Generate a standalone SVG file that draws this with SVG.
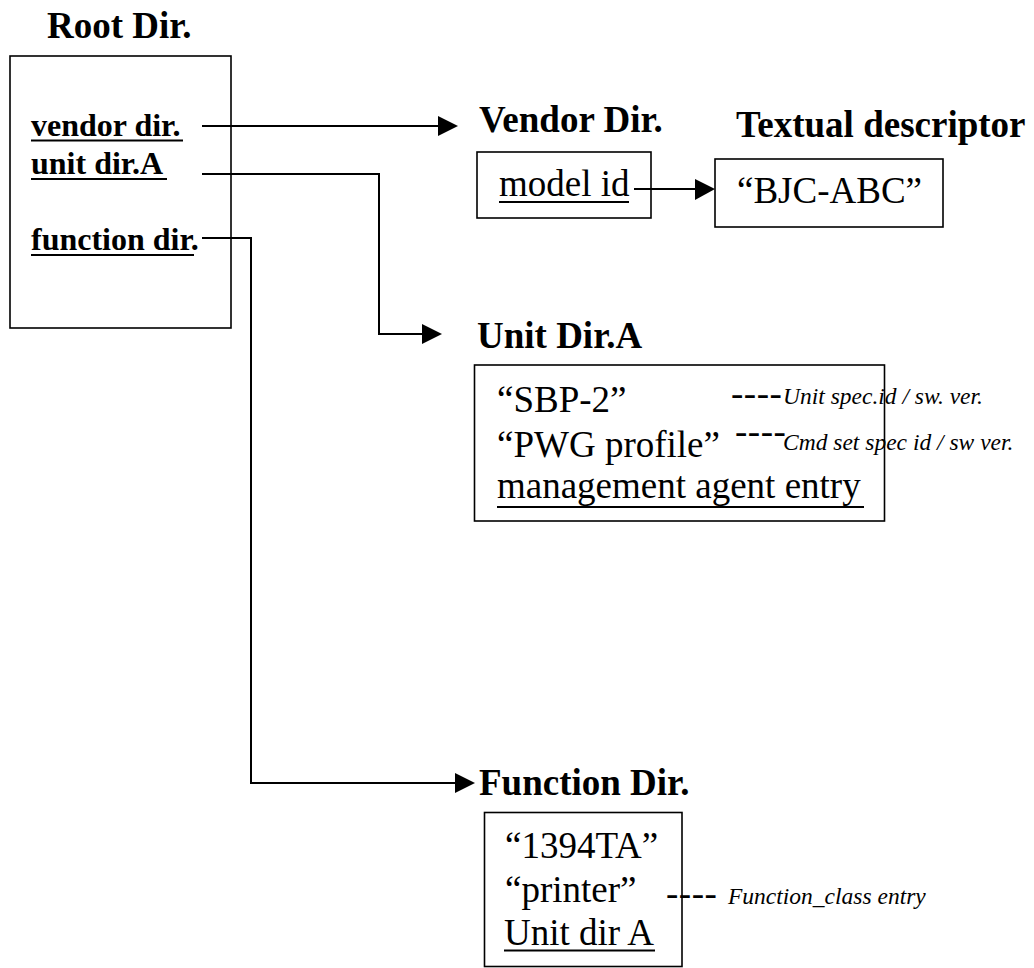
<svg xmlns="http://www.w3.org/2000/svg" width="1034" height="968" viewBox="0 0 1034 968">
<style>
text{font-family:"Liberation Serif","Times New Roman",serif;fill:#000}
.h{font-weight:bold;font-size:37px}
.e{font-weight:bold;font-size:32px}
.r{font-size:37px}
.i{font-style:italic;font-size:23.5px}
.d{font-size:37px;letter-spacing:0.5px}
.box{fill:none;stroke:#000;stroke-width:1.6}
.ul{stroke:#000;stroke-width:2}
.c{fill:none;stroke:#000;stroke-width:2}
.ah{fill:#000}
</style>
<g id="root">
<text class="h" x="47" y="38">Root Dir.</text>
<rect class="box" x="10" y="56" width="221" height="272"/>
<text class="e" x="31" y="136">vendor dir.</text>
<line class="ul" x1="31" y1="140.5" x2="183" y2="140.5"/>
<text class="e" x="31" y="174">unit dir.A</text>
<line class="ul" x1="31" y1="179" x2="167" y2="179"/>
<text class="e" x="31" y="250">function dir.</text>
<line class="ul" x1="31" y1="255" x2="194" y2="255"/>
</g>
<g id="vendor">
<text class="h" x="479" y="132">Vendor Dir.</text>
<rect class="box" x="477" y="152" width="174" height="66"/>
<text class="r" x="499" y="196">model id</text>
<line class="ul" x1="499" y1="202" x2="629" y2="202"/>
</g>
<g id="textual">
<text class="h" x="736" y="137">Textual descriptor</text>
<rect class="box" x="715" y="159" width="228" height="68"/>
<text class="r" x="737" y="203">“BJC-ABC”</text>
</g>
<g id="unit">
<text class="h" x="477" y="348">Unit Dir.A</text>
<rect class="box" x="474.5" y="365" width="410" height="156"/>
<text class="r" x="497" y="412">“SBP-2”</text>
<text class="r" x="497" y="457">“PWG profile”</text>
<text class="r" x="497" y="498">management agent entry</text>
<line class="ul" x1="497" y1="507" x2="864" y2="507"/>
<text class="d" x="731" y="406">----</text>
<text class="i" x="783" y="404">Unit spec.id / sw. ver.</text>
<text class="d" x="735" y="444">----</text>
<text class="i" x="783" y="450">Cmd set spec id / sw ver.</text>
</g>
<g id="function">
<text class="h" x="479" y="795">Function Dir.</text>
<rect class="box" x="484.5" y="812.5" width="197.5" height="154"/>
<text class="r" x="505" y="858">“1394TA”</text>
<text class="r" x="505" y="902">“printer”</text>
<text class="r" x="504" y="945">Unit dir A</text>
<line class="ul" x1="504" y1="950.5" x2="655" y2="950.5"/>
<text class="d" x="666" y="906">----</text>
<text class="i" x="728" y="904">Function_class entry</text>
</g>
<g id="connectors">
<path class="c" d="M202 126H439"/>
<polygon class="ah" points="438,116 458,126 438,136"/>
<path class="c" d="M202 174H379V334H423"/>
<polygon class="ah" points="422,324 442,334 422,344"/>
<path class="c" d="M202 238H251V783H456"/>
<polygon class="ah" points="455,773 475,783 455,793"/>
<path class="c" d="M634 189H696"/>
<polygon class="ah" points="695,179 715,189 695,200"/>
</g>
</svg>
